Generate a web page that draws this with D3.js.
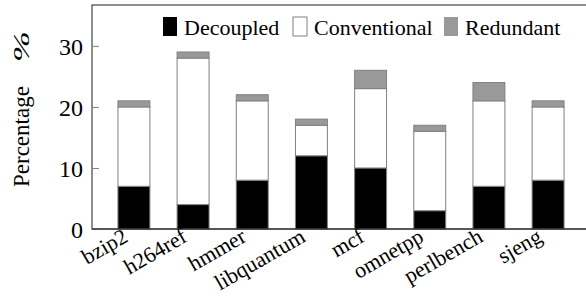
<!DOCTYPE html>
<html>
<head>
<meta charset="utf-8">
<script src="https://cdn.jsdelivr.net/npm/d3@7"></script>
<style>
  body { margin: 0; background: #fff; }
  svg text { font-family: "Liberation Serif", "Times New Roman", serif; fill: #000; }
</style>
</head>
<body>
<svg class="bar-chart" width="586" height="296"></svg>
<script>
var benchmarks = ["bzip2", "h264ref", "hmmer", "libquantum", "mcf", "omnetpp", "perlbench", "sjeng"];
var decoupled    = [7, 4, 8, 12, 10, 3, 7, 8];
var conventional = [13, 24, 13, 5, 13, 13, 14, 12];
var redundant    = [1, 1, 1, 1, 3, 1, 3, 1];
var yTicks = [0, 10, 20, 30];
var seriesNames = ["Decoupled", "Conventional", "Redundant"];
var seriesColors = ["#000000", "#ffffff", "#999999"];

var margin = {top: 5, right: -3, bottom: 67, left: 92};
var width = 586 - margin.left - margin.right;
var height = 296 - margin.top - margin.bottom;

var svg = d3.select(".bar-chart");
var chart = svg.append("g")
  .attr("transform", "translate(" + margin.left + "," + margin.top + ")");

var xChart = d3.scaleBand()
  .domain(benchmarks)
  .range([0, width])
  .paddingInner(0.46)
  .paddingOuter(0.43);

var yChart = d3.scaleLinear()
  .domain([0, 36.7])
  .range([height, 0]);

// stack the three series
var rows = benchmarks.map(function(b, i){
  return {name: b, Decoupled: decoupled[i], Conventional: conventional[i], Redundant: redundant[i]};
});
var stacked = d3.stack().keys(seriesNames)(rows);

chart.selectAll(".series")
  .data(stacked)
  .enter().append("g")
  .attr("class", "series")
  .attr("fill", function(d, i){ return seriesColors[i]; })
  .selectAll("rect")
  .data(function(d){ return d; })
  .enter().append("rect")
    .attr("x", function(d){ return xChart(d.data.name) + 0.5; })
    .attr("y", function(d){ return yChart(d[1]); })
    .attr("width", xChart.bandwidth())
    .attr("height", function(d){ return yChart(d[0]) - yChart(d[1]); })
    .attr("stroke", "#808080")
    .attr("stroke-width", 1);

// frame
chart.append("rect")
  .attr("x", 0).attr("y", 0)
  .attr("width", width).attr("height", height)
  .attr("fill", "none")
  .attr("stroke", "#444")
  .attr("stroke-width", 1.2);

// y axis
var yAxis = d3.axisRight(yChart).tickValues(yTicks).tickSize(7).tickFormat(d3.format("d"));
var yg = chart.append("g").attr("class", "y axis").call(yAxis);
yg.select(".domain").remove();
yg.selectAll(".tick line").attr("stroke", "#808080");
yg.selectAll(".tick text")
  .attr("x", -9)
  .attr("dy", "0.34em")
  .style("text-anchor", "end")
  .attr("font-size", "24px");

// bottom line redrawn on top
chart.append("line")
  .attr("x1", 0).attr("x2", width)
  .attr("y1", height).attr("y2", height)
  .attr("stroke", "#222").attr("stroke-width", 1.2);

// x labels
chart.append("g")
  .attr("class", "xAxis")
  .selectAll("text")
  .data(benchmarks)
  .enter().append("text")
    .attr("transform", function(d){
      return "translate(" + (xChart(d) + xChart.bandwidth() / 2 - 8) + "," + (height + 5) + ") rotate(-30)";
    })
    .attr("dy", "0.35em")
    .style("text-anchor", "end")
    .attr("font-size", "22px")
    .text(function(d){ return d; });

// y label
var ylab = svg.append("text")
  .attr("transform", "translate(29,187) rotate(-90)")
  .style("text-anchor", "start")
  .attr("font-size", "23px")
  .text("Percentage");
ylab.append("tspan")
  .attr("dx", 24)
  .attr("font-style", "italic")
  .attr("textLength", 31)
  .attr("lengthAdjust", "spacingAndGlyphs")
  .text("%");

// legend
var legendX = [163, 293, 444];
var legend = svg.append("g").attr("class", "legend");
seriesNames.forEach(function(name, i){
  legend.append("rect")
    .attr("x", legendX[i]).attr("y", 17)
    .attr("width", 14).attr("height", 19)
    .attr("fill", seriesColors[i])
    .attr("stroke", i === 1 ? "#808080" : "none");
  legend.append("text")
    .attr("x", legendX[i] + 21).attr("y", 35)
    .attr("font-size", "22px")
    .text(name);
});
</script>
</body>
</html>
